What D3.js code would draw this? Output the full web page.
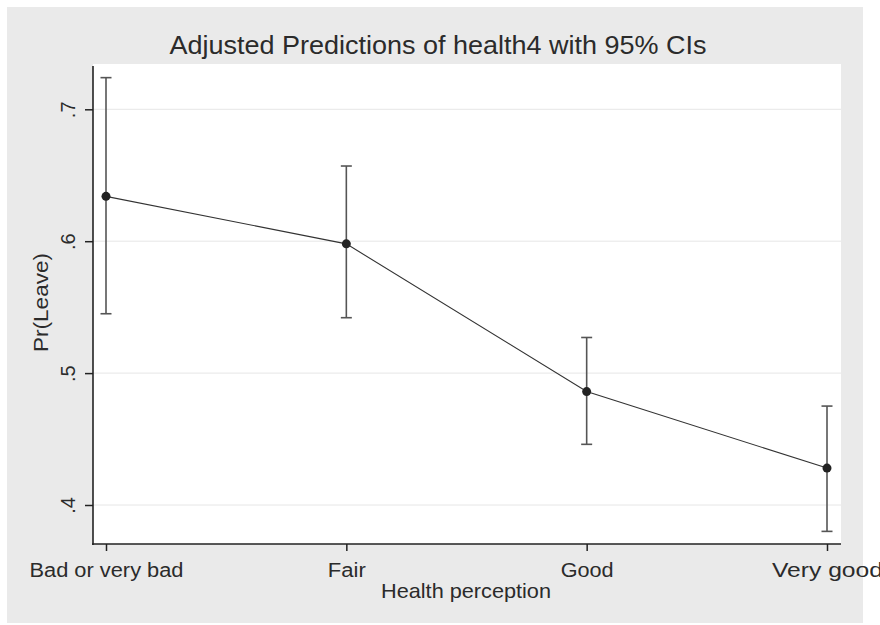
<!DOCTYPE html>
<html><head><meta charset="utf-8">
<script src="https://cdn.jsdelivr.net/npm/d3@7"></script>
<style>body{margin:0;background:#fff}svg{display:block}text{font-family:"Liberation Sans",Arial,sans-serif;fill:#2b2b2b}</style>
</head><body><svg id="c" width="880" height="625"></svg>
<script>
const categories = ["Bad or very bad","Fair","Good","Very good"];
const estimates = [0.634, 0.598, 0.486, 0.428];
const ciLower = [0.545, 0.542, 0.446, 0.380];
const ciUpper = [0.724, 0.657, 0.527, 0.475];
const yTicks = [0.4, 0.5, 0.6, 0.7];
const yTickLabels = [".4", ".5", ".6", ".7"];
const title = "Adjusted Predictions of health4 with 95% CIs";
const xTitle = "Health perception";
const yTitle = "Pr(Leave)";

const svg = d3.select("#c");
const L = 93, R = 841, T = 64, B = 544;

svg.append("rect").attr("x",7).attr("y",7).attr("width",856).attr("height",616).attr("fill","#eaeaea");
svg.append("rect").attr("x",L).attr("y",T).attr("width",R-L).attr("height",B-T).attr("fill","#fff");

const y = d3.scaleLinear().domain([0.4,0.7]).range([505,109.3]);
const x = d3.scalePoint().domain(categories).range([106,827]);

// gridlines
svg.append("g").selectAll("line").data(yTicks).join("line")
  .attr("x1",L).attr("x2",R).attr("y1",d=>y(d)).attr("y2",d=>y(d))
  .attr("stroke","#e6e6e6").attr("stroke-width",1);

// y axis
const yAxis = svg.append("g").attr("transform",`translate(${L},0)`)
  .call(d3.axisLeft(y).tickValues(yTicks).tickFormat((d,i)=>yTickLabels[i]).tickSize(8).tickSizeOuter(0));
yAxis.select(".domain").remove();
yAxis.selectAll(".tick line").attr("stroke","#222").attr("stroke-width",1.5);
yAxis.selectAll(".tick text").attr("x",null).attr("dy",null).attr("text-anchor","middle")
  .attr("transform","translate(-18,0) rotate(-90)").attr("font-size",20).style("fill","#2b2b2b");
svg.append("line").attr("x1",L).attr("x2",L).attr("y1",T+2).attr("y2",B+1).attr("stroke","#222").attr("stroke-width",1.6);

// x axis
const xAxis = svg.append("g").attr("transform",`translate(0,${B})`)
  .call(d3.axisBottom(x).tickSize(7).tickSizeOuter(0));
xAxis.select(".domain").remove();
xAxis.selectAll(".tick line").attr("stroke","#222").attr("stroke-width",1.5);
xAxis.selectAll(".tick text").attr("y",33).attr("dy",null).attr("font-size",20).style("fill","#2b2b2b")
  .attr("textLength",(d)=>({"Bad or very bad":154,"Fair":38,"Good":53,"Very good":111}[d]))
  .attr("lengthAdjust","spacingAndGlyphs");
svg.append("line").attr("x1",L-1).attr("x2",R).attr("y1",B).attr("y2",B).attr("stroke","#222").attr("stroke-width",1.6);

// error bars
const g = svg.append("g");
categories.forEach((c,i)=>{
  const cx = x(c);
  g.append("line").attr("x1",cx).attr("x2",cx).attr("y1",y(ciLower[i])).attr("y2",y(ciUpper[i])).attr("stroke","#555").attr("stroke-width",1.6);
  [ciLower[i],ciUpper[i]].forEach(v=>{
    g.append("line").attr("x1",cx-5.5).attr("x2",cx+5.5).attr("y1",y(v)).attr("y2",y(v)).attr("stroke","#555").attr("stroke-width",1.6);
  });
});

// line
svg.append("path").datum(categories.map((c,i)=>[x(c),y(estimates[i])]))
  .attr("d",d3.line()).attr("fill","none").attr("stroke","#333").attr("stroke-width",1.1);

svg.append("g").selectAll("circle").data(categories).join("circle")
  .attr("cx",d=>x(d)).attr("cy",(d,i)=>y(estimates[i])).attr("r",4.5).attr("fill","#222");

// titles
svg.append("text").attr("x",438).attr("y",54).attr("text-anchor","middle").attr("font-size",26)
  .attr("textLength",537).attr("lengthAdjust","spacingAndGlyphs").text(title);
svg.append("text").attr("x",466).attr("y",598).attr("text-anchor","middle").attr("font-size",21)
  .attr("textLength",170).attr("lengthAdjust","spacingAndGlyphs").text(xTitle);
svg.append("text").attr("transform","translate(48,302.5) rotate(-90)").attr("text-anchor","middle").attr("font-size",21)
  .attr("textLength",99).attr("lengthAdjust","spacingAndGlyphs").text(yTitle);
</script></body></html>
